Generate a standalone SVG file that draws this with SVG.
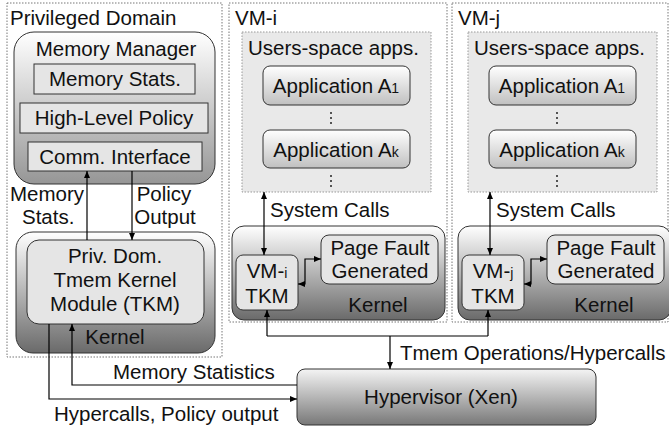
<svg xmlns="http://www.w3.org/2000/svg" width="669" height="432" viewBox="0 0 669 432">
<defs>
<linearGradient id="gMM" x1="0" y1="0" x2="0" y2="1"><stop offset="0" stop-color="#ffffff"/><stop offset="1" stop-color="#969696"/></linearGradient>
<linearGradient id="gK" x1="0" y1="0" x2="0" y2="1"><stop offset="0" stop-color="#ffffff"/><stop offset="1" stop-color="#6a6a6a"/></linearGradient>
<linearGradient id="gH" x1="0" y1="0" x2="0" y2="1"><stop offset="0" stop-color="#f4f4f4"/><stop offset="1" stop-color="#787878"/></linearGradient>
<linearGradient id="gA" x1="0" y1="0" x2="0" y2="1"><stop offset="0" stop-color="#ffffff"/><stop offset="1" stop-color="#c0c0c0"/></linearGradient>
<marker id="ah" markerWidth="8" markerHeight="6" refX="7" refY="3" orient="auto-start-reverse" markerUnits="userSpaceOnUse"><path d="M0,0 L7,3 L0,6 z" fill="#000"/></marker>
<style>
text{font-family:"Liberation Sans",Arial,sans-serif;font-size:20.5px;fill:#111}
.c{text-anchor:middle}
.dot{fill:none;stroke:#777;stroke-width:1;stroke-dasharray:1.5,1.5}
.us{fill:#e9e9e9;stroke:#999;stroke-width:1;stroke-dasharray:1.5,1.5}
.box{stroke:#333;stroke-width:1}
.in{fill:#e5e5e5;stroke:#333;stroke-width:1}
.ln{fill:none;stroke:#000;stroke-width:1.2}
.sm{font-size:14px}
</style>
</defs>

<g id="priv-domain">
<rect class="dot" x="7" y="3" width="215" height="354"/>
<text x="10" y="25">Privileged Domain</text>
</g>

<g id="memory-manager">
<rect class="box" x="14" y="32" width="201" height="152" rx="20" fill="url(#gMM)"/>
<text class="c" x="116" y="56">Memory Manager</text>
<rect class="in" x="34" y="64" width="161" height="30"/>
<text class="c" x="115" y="86">Memory Stats.</text>
<rect class="in" x="20" y="103" width="188" height="30"/>
<text class="c" x="114" y="125">High-Level Policy</text>
<rect class="in" x="28" y="142" width="174" height="29"/>
<text class="c" x="115" y="164">Comm. Interface</text>
</g>

<g id="priv-kernel">
<rect class="box" x="16" y="232" width="199" height="121" rx="17" fill="url(#gK)"/>
<text class="c" x="115" y="344">Kernel</text>
</g>
<g id="priv-tkm">
<rect class="in" x="27" y="240" width="177" height="84" rx="12" fill="#dedede"/>
<text class="c" x="115" y="263">Priv. Dom.</text>
<text class="c" x="115" y="287">Tmem Kernel</text>
<text class="c" x="115" y="311">Module (TKM)</text>
</g>

<g id="vm-i">
<rect class="dot" x="229" y="3" width="218" height="319"/>
<text x="235" y="25">VM-i</text>
</g>
<g id="vm-i-userspace">
<rect class="us" x="242" y="32" width="189" height="160"/>
<text x="248" y="55">Users-space apps.</text>
<g fill="#222"><circle cx="331" cy="113" r="1"/><circle cx="331" cy="118" r="1"/><circle cx="331" cy="123" r="1"/><circle cx="331" cy="176" r="1"/><circle cx="331" cy="181" r="1"/><circle cx="331" cy="186" r="1"/></g>
</g>
<g id="vm-i-app1">
<rect class="box" x="263" y="66" width="147" height="39" rx="7" fill="url(#gA)"/>
<text class="c" x="336" y="93">Application A<tspan class="sm">1</tspan></text>
</g>
<g id="vm-i-appk">
<rect class="box" x="263" y="130" width="147" height="38" rx="7" fill="url(#gA)"/>
<text class="c" x="336" y="157">Application A<tspan class="sm">k</tspan></text>
</g>
<g id="vm-i-kernel">
<rect class="box" x="232" y="226" width="213" height="94" rx="12" fill="url(#gK)"/>
<text class="c" x="378" y="312">Kernel</text>
</g>
<g id="vm-i-tkm">
<rect class="in" x="236" y="255" width="62" height="55" rx="7" fill="#dedede"/>
<text class="c" x="267" y="278">VM-<tspan class="sm">i</tspan></text>
<text class="c" x="267" y="303">TKM</text>
</g>
<g id="vm-i-pagefault">
<rect class="in" x="321" y="235" width="117" height="49" rx="8" fill="#dedede"/>
<text class="c" x="380" y="255">Page Fault</text>
<text class="c" x="380" y="278">Generated</text>
</g>

<g id="vm-j">
<rect class="dot" x="452" y="3" width="216" height="319"/>
<text x="458" y="25">VM-j</text>
</g>
<g id="vm-j-userspace">
<rect class="us" x="468" y="32" width="189" height="160"/>
<text x="474" y="55">Users-space apps.</text>
<g fill="#222"><circle cx="557" cy="113" r="1"/><circle cx="557" cy="118" r="1"/><circle cx="557" cy="123" r="1"/><circle cx="557" cy="176" r="1"/><circle cx="557" cy="181" r="1"/><circle cx="557" cy="186" r="1"/></g>
</g>
<g id="vm-j-app1">
<rect class="box" x="489" y="66" width="147" height="39" rx="7" fill="url(#gA)"/>
<text class="c" x="562" y="93">Application A<tspan class="sm">1</tspan></text>
</g>
<g id="vm-j-appk">
<rect class="box" x="489" y="130" width="147" height="38" rx="7" fill="url(#gA)"/>
<text class="c" x="562" y="157">Application A<tspan class="sm">k</tspan></text>
</g>
<g id="vm-j-kernel">
<rect class="box" x="458" y="226" width="213" height="94" rx="12" fill="url(#gK)"/>
<text class="c" x="604" y="312">Kernel</text>
</g>
<g id="vm-j-tkm">
<rect class="in" x="462" y="255" width="62" height="55" rx="7" fill="#dedede"/>
<text class="c" x="493" y="278">VM-<tspan class="sm">j</tspan></text>
<text class="c" x="493" y="303">TKM</text>
</g>
<g id="vm-j-pagefault">
<rect class="in" x="547" y="235" width="117" height="49" rx="8" fill="#dedede"/>
<text class="c" x="606" y="255">Page Fault</text>
<text class="c" x="606" y="278">Generated</text>
</g>

<g id="hypervisor">
<rect class="box" x="297" y="369" width="299" height="56" rx="8" fill="url(#gH)"/>
<text class="c" x="441" y="404">Hypervisor (Xen)</text>
</g>

<g id="connectors">
<path class="ln" d="M87,240 V171" marker-end="url(#ah)"/>
<path class="ln" d="M132,171 V240" marker-end="url(#ah)"/>
<path class="ln" d="M49,324 V399 H297" marker-end="url(#ah)"/>
<path class="ln" d="M297,385 H72 V324" marker-end="url(#ah)"/>
<path class="ln" d="M264,192 V255" marker-start="url(#ah)" marker-end="url(#ah)"/>
<path class="ln" d="M490,192 V255" marker-start="url(#ah)" marker-end="url(#ah)"/>
<path class="ln" d="M298,284 H305 V259 H321" marker-start="url(#ah)" marker-end="url(#ah)"/>
<path class="ln" d="M524,284 H531 V259 H547" marker-start="url(#ah)" marker-end="url(#ah)"/>
<path class="ln" d="M267,336 V310" marker-end="url(#ah)"/>
<path class="ln" d="M488,336 V310" marker-end="url(#ah)"/>
<path class="ln" d="M267,336 H488"/>
<path class="ln" d="M390,336 V369" marker-end="url(#ah)"/>
<text x="10" y="201">Memory</text>
<text x="22" y="224">Stats.</text>
<text class="c" x="164" y="201">Policy</text>
<text class="c" x="165" y="224">Output</text>
<text x="270" y="217">System Calls</text>
<text x="496" y="217">System Calls</text>
<text x="400" y="360">Tmem Operations/Hypercalls</text>
<text x="113" y="379">Memory Statistics</text>
<text x="54" y="421">Hypercalls, Policy output</text>
</g>
</svg>
